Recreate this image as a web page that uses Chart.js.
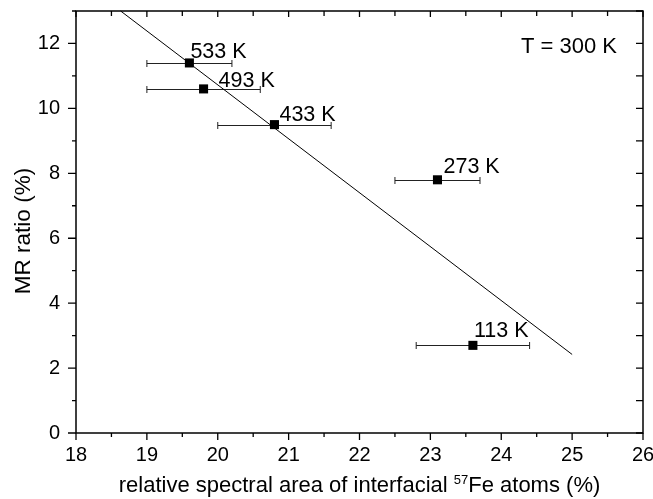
<!DOCTYPE html>
<html><head><meta charset="utf-8">
<script src="https://cdn.jsdelivr.net/npm/chart.js@4.4.1/dist/chart.umd.min.js"></script>
<style>html,body{margin:0;padding:0;background:#fff;}#wrap{width:653px;height:499px;}</style>
</head><body><div id="wrap"><canvas id="c" width="653" height="499"></canvas></div>
<script>
// ---- data ----
const temperatureLabels = ['533 K', '493 K', '433 K', '273 K', '113 K'];
const spectralArea = [19.6, 19.8, 20.8, 23.1, 23.6];
const mrRatio = [11.4, 10.6, 9.5, 7.8, 2.7];
const areaErrLow = [19.0, 19.0, 20.0, 22.5, 22.8];
const areaErrHigh = [20.2, 20.6, 21.6, 23.7, 24.4];
const fitX = [18.63, 25.0];
const fitY = [13.0, 2.42];
const xTickValues = [18, 19, 20, 21, 22, 23, 24, 25, 26];
const yTickValues = [0, 2, 4, 6, 8, 10, 12];
const annotationText = 'T = 300 K';
const yTitle = 'MR ratio (%)';
const xTitleParts = ['relative spectral area of interfacial ', '57', 'Fe atoms (%)'];

// ---- styling (kept separate from data) ----
const FONT = '"Liberation Sans", Arial, Helvetica, sans-serif';
const labelOffsets = [[1, -5], [15, -2], [5, -4], [6, -7], [1, -8]];

const errorBarPlugin = {
  id: 'errorBars',
  beforeDatasetsDraw(chart) {
    const ctx = chart.ctx, xs = chart.scales.x, ys = chart.scales.y;
    ctx.save();
    ctx.strokeStyle = '#222';
    ctx.lineWidth = 1;
    for (let i = 0; i < spectralArea.length; i++) {
      const y = Math.round(ys.getPixelForValue(mrRatio[i])) + 0.5;
      const x1 = xs.getPixelForValue(areaErrLow[i]);
      const x2 = xs.getPixelForValue(areaErrHigh[i]);
      ctx.beginPath();
      ctx.moveTo(x1, y); ctx.lineTo(x2, y);
      ctx.moveTo(x1, y - 3.5); ctx.lineTo(x1, y + 3.5);
      ctx.moveTo(x2, y - 3.5); ctx.lineTo(x2, y + 3.5);
      ctx.stroke();
    }
    ctx.restore();
  }
};

const decorPlugin = {
  id: 'decor',
  afterDraw(chart) {
    const ctx = chart.ctx, xs = chart.scales.x, ys = chart.scales.y, a = chart.chartArea;
    ctx.save();
    // point labels
    ctx.fillStyle = '#000';
    ctx.font = '21.5px ' + FONT;
    ctx.textBaseline = 'alphabetic';
    ctx.textAlign = 'left';
    for (let i = 0; i < spectralArea.length; i++) {
      const px = xs.getPixelForValue(spectralArea[i]);
      const py = ys.getPixelForValue(mrRatio[i]);
      ctx.fillText(temperatureLabels[i], px + labelOffsets[i][0], py + labelOffsets[i][1]);
    }
    // annotation
    ctx.font = '22px ' + FONT;
    ctx.textAlign = 'right';
    ctx.fillText(annotationText, a.right - 26, a.top + 42);

    // frame
    ctx.strokeStyle = '#000';
    ctx.lineWidth = 1.5;
    ctx.strokeRect(a.left, a.top, a.right - a.left, a.bottom - a.top);
    // ticks
    ctx.lineWidth = 1.3;
    ctx.beginPath();
    for (let v = xs.min; v <= xs.max + 1e-9; v += 0.5) {
      const major = Math.abs(v - Math.round(v)) < 1e-9;
      const x = xs.getPixelForValue(v);
      const lb = major ? 7 : 4, lt = major ? 6 : 5;
      ctx.moveTo(x, a.bottom); ctx.lineTo(x, a.bottom + lb);
      ctx.moveTo(x, a.top); ctx.lineTo(x, a.top + lt);
    }
    for (let v = ys.min; v <= ys.max + 1e-9; v += 1) {
      const major = v % 2 === 0;
      const y = ys.getPixelForValue(v);
      const ll = major ? 8 : 4, lr = 7;
      ctx.moveTo(a.left, y); ctx.lineTo(a.left - ll, y);
      ctx.moveTo(a.right, y); ctx.lineTo(a.right - lr, y);
    }
    ctx.stroke();

    // y axis title
    ctx.save();
    ctx.translate(24, 231);
    ctx.rotate(-Math.PI / 2);
    ctx.font = '22.5px ' + FONT;
    ctx.textAlign = 'center';
    ctx.textBaseline = 'middle';
    ctx.fillText(yTitle, 0, 0);
    ctx.restore();

    // x axis title with superscript
    const parts = [
      [xTitleParts[0], 22, 0],
      [xTitleParts[1], 13, -8.5],
      [xTitleParts[2], 22, 0]
    ];
    let total = 0;
    parts.forEach(p => { ctx.font = p[1] + 'px ' + FONT; total += ctx.measureText(p[0]).width; });
    let x = (a.left + a.right) / 2 - total / 2;
    const base = 492;
    ctx.textAlign = 'left';
    ctx.textBaseline = 'alphabetic';
    parts.forEach(p => {
      ctx.font = p[1] + 'px ' + FONT;
      ctx.fillText(p[0], x, base + p[2]);
      x += ctx.measureText(p[0]).width;
    });
    ctx.restore();
  }
};

new Chart(document.getElementById('c'), {
  type: 'scatter',
  data: {
    datasets: [
      {
        type: 'line',
        data: fitX.map((v, i) => ({ x: v, y: fitY[i] })),
        borderColor: '#000',
        borderWidth: 1,
        pointRadius: 0,
        fill: false,
        tension: 0
      },
      {
        data: spectralArea.map((v, i) => ({ x: v, y: mrRatio[i] })),
        pointStyle: 'rect',
        pointRadius: 6.4,
        backgroundColor: '#000',
        borderColor: '#000',
        borderWidth: 0
      }
    ]
  },
  options: {
    responsive: false,
    devicePixelRatio: 1,
    animation: false,
    clip: false,
    layout: { padding: { left: 0, right: 10, top: 11, bottom: 0 } },
    plugins: { legend: { display: false }, tooltip: { enabled: false } },
    scales: {
      x: {
        type: 'linear', min: 18, max: 26,
        afterBuildTicks: s => { s.ticks = xTickValues.map(v => ({ value: v })); },
        afterFit: s => { s.height = 66; s.paddingLeft = 0; s.paddingRight = 0; },
        grid: { display: false, drawTicks: false },
        border: { display: false },
        ticks: { color: '#000', font: { family: FONT, size: 20 }, padding: 10, maxRotation: 0 },
        title: { display: false }
      },
      y: {
        type: 'linear', min: 0, max: 13,
        afterBuildTicks: s => { s.ticks = yTickValues.map(v => ({ value: v })); },
        afterFit: s => { s.width = 76; s.paddingTop = 0; s.paddingBottom = 0; },
        grid: { display: false, drawTicks: false },
        border: { display: false },
        ticks: { color: '#000', font: { family: FONT, size: 20 }, padding: 16 },
        title: { display: false }
      }
    }
  },
  plugins: [errorBarPlugin, decorPlugin]
});
</script>
</body></html>
